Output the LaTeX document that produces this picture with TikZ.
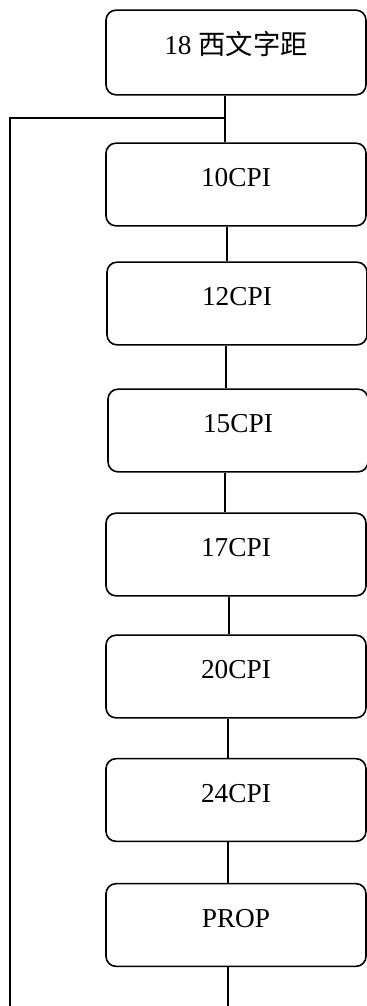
\documentclass[tikz,border=0pt]{standalone}
\usepackage{fontspec}
\setmainfont{Liberation Serif}
\newfontfamily\cjk{Noto Sans CJK SC}
\tikzset{
  cpibox/.style={draw, rounded corners=7.5pt, line width=1.2pt,
    minimum width=195pt, minimum height=62pt, inner sep=0pt,
    text height=0.7em, text depth=0.33em,
    font=\fontsize{20.5}{24}\selectfont},
  link/.style={line width=1.2pt}
}
\begin{document}
\begin{tikzpicture}[x=0.75pt, y=-0.75pt]
  \useasboundingbox (0,0) rectangle (367,1006);
  \node[cpibox, minimum height=63.5pt] (top) at (236,52.5) {18 {\cjk 西文字距}};
  \node[cpibox] (c10) at (236,184.5) {10CPI};
  \node[cpibox] (c12) at (237,303.5) {12CPI};
  \node[cpibox] (c15) at (238,430.5) {15CPI};
  \node[cpibox] (c17) at (236,554.5) {17CPI};
  \node[cpibox] (c20) at (236,676.5) {20CPI};
  \node[cpibox] (c24) at (236,800) {24CPI};
  \node[cpibox] (prop) at (236,925) {PROP};
  % x positions of the links
  \coordinate (xa) at (225,0);
  \coordinate (xb) at (227,0);
  \coordinate (xc) at (226,0);
  \coordinate (xd) at (229,0);
  \coordinate (xe) at (228,0);
  \coordinate (j) at (225,118);
  \coordinate (jl) at (10,118);
  \coordinate (bl) at (10,1006);
  \coordinate (end) at (228,1006);
  \draw[link] (top.south -| xa) -- (c10.north -| xa);
  \draw[link] (j) -- (jl) -- (bl);
  \draw[link] (c10.south -| xb) -- (c12.north -| xb);
  \draw[link] (c12.south -| xc) -- (c15.north -| xc);
  \draw[link] (c15.south -| xa) -- (c17.north -| xa);
  \draw[link] (c17.south -| xd) -- (c20.north -| xd);
  \draw[link] (c20.south -| xe) -- (c24.north -| xe);
  \draw[link] (c24.south -| xe) -- (prop.north -| xe);
  \draw[link] (prop.south -| xe) -- (end);
\end{tikzpicture}
\end{document}
